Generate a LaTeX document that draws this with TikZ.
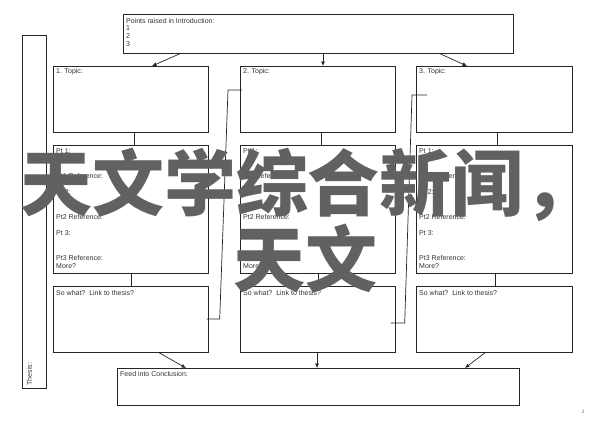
\documentclass[tikz,border=0pt]{standalone}
\usepackage{fontspec}
\setmainfont{Liberation Sans}
\newfontfamily\cjk{Noto Sans CJK SC}
\newfontfamily\serif{Liberation Serif}
\usetikzlibrary{arrows.meta}
\tikzset{
	box/.style={draw=black!85, line width=0.7pt, inner sep=0pt, anchor=north west},
	txt/.style={anchor=north west, inner sep=0pt, align=left, text=black!80, font=\fontsize{7}{8.2}\selectfont},
	link/.style={draw=black!85, line width=0.7pt},
	arr/.style={link, -{Latex[length=4.5pt,width=4pt]}},
	wmark/.style={anchor=base, inner sep=0pt, text=black!62, font=\cjk\bfseries\fontsize{72}{76}\selectfont}
}
\begin{document}
\begin{tikzpicture}[x=1pt,y=-1pt]
	\useasboundingbox (0,0) rectangle (600,424);
	
	\node[box, minimum width=390pt, minimum height=39pt] (intro) at (123,14) {};
	\node[box, minimum width=24pt, minimum height=353pt] (thesis) at (22,35) {};
	
	\node[box, minimum width=155pt, minimum height=66pt] (topicA) at (53,66) {};
	\node[box, minimum width=155pt, minimum height=66pt] (topicB) at (240,66) {};
	\node[box, minimum width=156pt, minimum height=66pt] (topicC) at (416,66) {};
	
	\node[box, minimum width=155pt, minimum height=128pt] (ptA) at (53,145) {};
	\node[box, minimum width=155pt, minimum height=128pt] (ptB) at (240,145) {};
	\node[box, minimum width=156pt, minimum height=128pt] (ptC) at (416,145) {};
	
	\node[box, minimum width=155pt, minimum height=66pt] (sowhatA) at (53,286) {};
	\node[box, minimum width=155pt, minimum height=66pt] (sowhatB) at (240,286) {};
	\node[box, minimum width=156pt, minimum height=66pt] (sowhatC) at (416,286) {};
	
	\node[box, minimum width=402pt, minimum height=37pt] (concl) at (117,368) {};
	
	
	\node[txt, font=\fontsize{7}{7.7}\selectfont] (introT) at ([xshift=3pt,yshift=-4pt]intro.north west) {Points raised in Introduction:\\1\\2\\3};
	\node[txt, rotate=90] (thesisT) at ([xshift=4.5pt,yshift=3pt]thesis.south west) {Thesis:};
	
	\node[txt] (topicAT) at ([xshift=3pt,yshift=-2.5pt]topicA.north west) {1. Topic:};
	\node[txt] (topicBT) at ([xshift=3pt,yshift=-2.5pt]topicB.north west) {2. Topic:};
	\node[txt] (topicCT) at ([xshift=3pt,yshift=-2.5pt]topicC.north west) {3. Topic:};
	
	\node[txt] (ptAT) at ([xshift=3pt,yshift=-3.5pt]ptA.north west) {Pt 1:\\[16.4pt]Pt1 Reference:\\[8.2pt]Pt 2:\\[16.4pt]Pt2 Reference:\\[8.2pt]Pt 3:\\[16.4pt]Pt3 Reference:\\More?};
	\node[txt] (ptBT) at ([xshift=3pt,yshift=-3.5pt]ptB.north west) {Pt 1:\\[16.4pt]Pt1 Reference:\\[8.2pt]Pt 2:\\[16.4pt]Pt2 Reference:\\[8.2pt]Pt 3:\\[16.4pt]Pt3 Reference:\\More?};
	\node[txt] (ptCT) at ([xshift=3pt,yshift=-3.5pt]ptC.north west) {Pt 1:\\[16.4pt]Pt1 Reference:\\[8.2pt]Pt 2:\\[16.4pt]Pt2 Reference:\\[8.2pt]Pt 3:\\[16.4pt]Pt3 Reference:\\More?};
	
	\node[txt] (sowhatAT) at ([xshift=3pt,yshift=-4pt]sowhatA.north west) {So what?\ \ Link to thesis?};
	\node[txt] (sowhatBT) at ([xshift=3pt,yshift=-4pt]sowhatB.north west) {So what?\ \ Link to thesis?};
	\node[txt] (sowhatCT) at ([xshift=3pt,yshift=-4pt]sowhatC.north west) {So what?\ \ Link to thesis?};
	
	\node[txt] (conclT) at ([xshift=3pt,yshift=-3.5pt]concl.north west) {Feed into Conclusion:};
	
	
	\draw[arr] ([xshift=57pt]intro.south west) -- ([xshift=99pt]topicA.north west);
	\draw[arr] ([xshift=200pt]intro.south west) -- ([xshift=83pt]topicB.north west);
	\draw[arr] ([xshift=317pt]intro.south west) -- ([xshift=51pt]topicC.north west);
	
	\draw[link] ([xshift=81pt]topicA.south west) -- ([xshift=81pt]ptA.north west);
	\draw[link] ([xshift=81pt]topicB.south west) -- ([xshift=81pt]ptB.north west);
	\draw[link] ([xshift=81pt]topicC.south west) -- ([xshift=81pt]ptC.north west);
	
	\draw[link] ([xshift=78pt]ptA.south west) -- ([xshift=78pt]sowhatA.north west);
	\draw[link] ([xshift=78pt]ptB.south west) -- ([xshift=78pt]sowhatB.north west);
	\draw[link] ([xshift=79pt]ptC.south west) -- ([xshift=79pt]sowhatC.north west);
	
	\draw[arr] ([xshift=106pt]sowhatA.south west) -- ([xshift=69pt]concl.north west);
	\draw[arr] ([xshift=77pt]sowhatB.south west) -- ([xshift=200pt]concl.north west);
	\draw[arr] ([xshift=69pt]sowhatC.south west) -- ([xshift=348pt]concl.north west);
	
	\draw[link] ([xshift=2pt,yshift=-24pt]topicB.north west) -- ([xshift=-12pt,yshift=-24pt]topicB.north west) -- ([xshift=11pt,yshift=-33pt]sowhatA.north east) -- ([xshift=-2pt,yshift=-33pt]sowhatA.north east);
	\draw[link] ([xshift=11pt,yshift=-29pt]topicC.north west) -- ([xshift=-4pt,yshift=-29pt]topicC.north west) -- ([xshift=9pt,yshift=-37pt]sowhatB.north east) -- ([xshift=-5pt,yshift=-37pt]sowhatB.north east);
	
	\node[inner sep=0pt, text=black!70, font=\serif\fontsize{5}{6}\selectfont] (pgnum) at (583,412) {2};
	
	
	\node[wmark] (wmA) at (308,210.5) {天文学综合新闻，};
	\node[wmark] (wmB) at (305,286.5) {天文};
\end{tikzpicture}
\end{document}
